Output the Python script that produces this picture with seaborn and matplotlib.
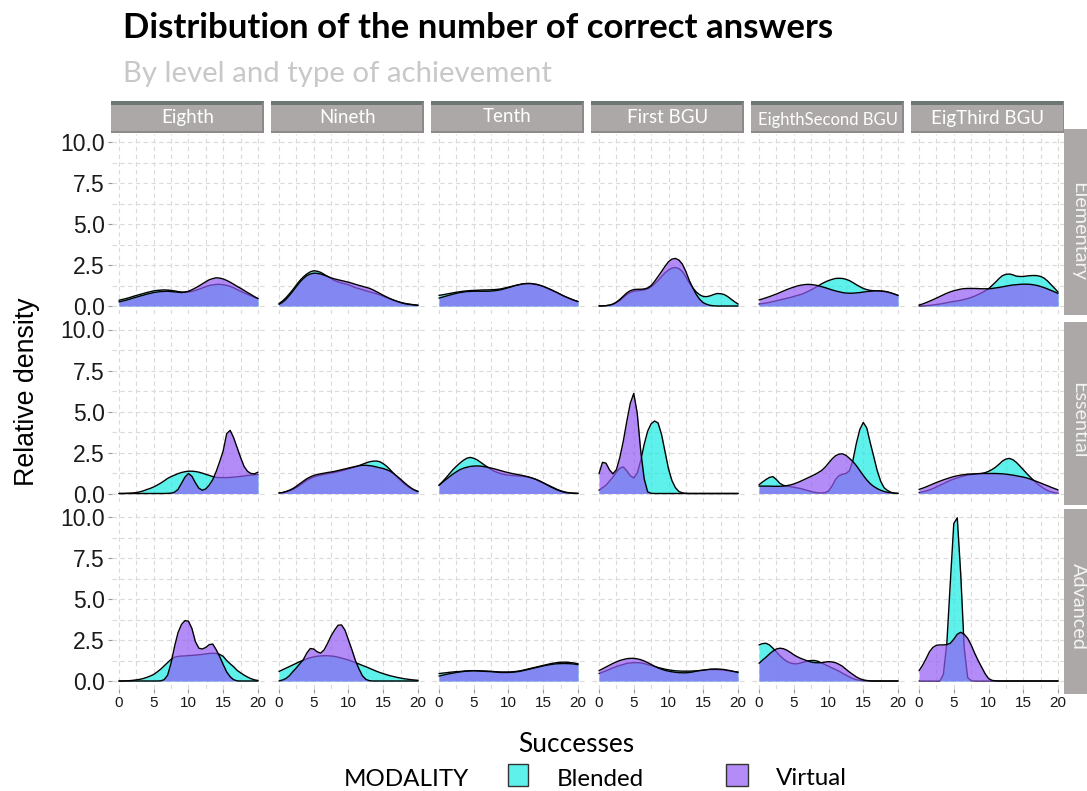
import numpy as np
import pandas as pd
import matplotlib
matplotlib.use("Agg")
import matplotlib.pyplot as plt
import seaborn as sns
from matplotlib.patches import Rectangle
from matplotlib.ticker import MultipleLocator

# ---------------- data ----------------
GRADES = ["Eighth", "Nineth", "Tenth", "First BGU", "EighthSecond BGU", "EigThird BGU"]
LEVELS = ["Elementary", "Essential", "Advanced"]
MODALITIES = ["Blended", "Virtual"]
X_TICKS = [0, 5, 10, 15, 20]
X_LABELS = ["0", "5", "10", "15", "20"]
Y_TICKS = [0, 2.5, 5, 7.5, 10]
Y_LABELS = ["0.0", "2.5", "5.0", "7.5", "10.0"]

SUCCESSES = [0, 0.5, 1, 1.5, 2, 2.5, 3, 3.5, 4, 4.5, 5, 5.5, 6, 6.5, 7, 7.5, 8, 8.5, 9, 9.5, 10,
             10.5, 11, 11.5, 12, 12.5, 13, 13.5, 14, 14.5, 15, 15.5, 16, 16.5, 17, 17.5, 18, 18.5, 19, 19.5, 20]

ELEMENTARY_BLENDED = [
    [0.35, 0.40, 0.45, 0.51, 0.58, 0.64, 0.70, 0.76, 0.82, 0.87, 0.92, 0.95, 0.97, 0.98, 0.97, 0.95, 0.92, 0.88, 0.85, 0.84,
     0.85, 0.89, 0.95, 1.02, 1.10, 1.18, 1.25, 1.29, 1.32, 1.32, 1.30, 1.26, 1.20, 1.11, 1.00, 0.90, 0.80, 0.71, 0.62, 0.53, 0.45],
    [0.15, 0.30, 0.50, 0.74, 1.00, 1.28, 1.55, 1.77, 1.95, 2.08, 2.15, 2.12, 2.05, 1.93, 1.80, 1.67, 1.55, 1.47, 1.40, 1.35,
     1.30, 1.21, 1.12, 1.06, 1.00, 0.93, 0.87, 0.81, 0.75, 0.68, 0.60, 0.51, 0.42, 0.35, 0.28, 0.22, 0.17, 0.13, 0.10, 0.07, 0.05],
    [0.65, 0.68, 0.72, 0.76, 0.80, 0.84, 0.87, 0.90, 0.92, 0.94, 0.95, 0.96, 0.97, 0.98, 0.98, 0.99, 1.00, 1.02, 1.05, 1.10,
     1.15, 1.20, 1.25, 1.29, 1.33, 1.35, 1.35, 1.33, 1.30, 1.25, 1.18, 1.10, 1.00, 0.90, 0.80, 0.70, 0.60, 0.51, 0.42, 0.34, 0.27],
    [0.00, 0.01, 0.02, 0.05, 0.10, 0.20, 0.35, 0.52, 0.70, 0.82, 0.90, 0.93, 0.95, 0.98, 1.05, 1.17, 1.35, 1.56, 1.80, 2.02,
     2.20, 2.31, 2.35, 2.28, 2.10, 1.78, 1.40, 1.10, 0.85, 0.68, 0.58, 0.57, 0.62, 0.70, 0.76, 0.75, 0.70, 0.58, 0.42, 0.26, 0.12],
    [0.12, 0.15, 0.18, 0.22, 0.27, 0.32, 0.37, 0.42, 0.47, 0.52, 0.58, 0.64, 0.70, 0.78, 0.88, 0.98, 1.10, 1.22, 1.35, 1.46,
     1.55, 1.62, 1.68, 1.69, 1.68, 1.63, 1.55, 1.43, 1.30, 1.18, 1.07, 1.00, 0.95, 0.93, 0.92, 0.90, 0.88, 0.84, 0.78, 0.71, 0.63],
    [0.00, 0.01, 0.02, 0.04, 0.06, 0.09, 0.12, 0.16, 0.20, 0.24, 0.28, 0.31, 0.35, 0.40, 0.45, 0.52, 0.60, 0.70, 0.80, 0.92,
     1.05, 1.25, 1.45, 1.67, 1.85, 1.93, 1.95, 1.90, 1.82, 1.80, 1.80, 1.83, 1.85, 1.86, 1.85, 1.80, 1.70, 1.52, 1.30, 1.08, 0.85],
]
ELEMENTARY_VIRTUAL = [
    [0.25, 0.30, 0.35, 0.41, 0.48, 0.54, 0.60, 0.66, 0.72, 0.77, 0.82, 0.85, 0.88, 0.89, 0.90, 0.88, 0.86, 0.84, 0.82, 0.85,
     0.90, 0.99, 1.10, 1.22, 1.35, 1.48, 1.60, 1.67, 1.72, 1.70, 1.65, 1.56, 1.45, 1.33, 1.20, 1.08, 0.95, 0.82, 0.70, 0.57, 0.45],
    [0.10, 0.22, 0.40, 0.64, 0.90, 1.18, 1.45, 1.67, 1.85, 1.95, 2.00, 1.99, 1.95, 1.88, 1.80, 1.72, 1.65, 1.60, 1.55, 1.50,
     1.45, 1.39, 1.32, 1.26, 1.20, 1.14, 1.08, 0.99, 0.88, 0.77, 0.65, 0.55, 0.45, 0.36, 0.28, 0.21, 0.15, 0.11, 0.08, 0.06, 0.04],
    [0.48, 0.54, 0.60, 0.66, 0.72, 0.77, 0.82, 0.85, 0.88, 0.89, 0.90, 0.90, 0.90, 0.90, 0.90, 0.91, 0.93, 0.96, 1.00, 1.06,
     1.12, 1.18, 1.25, 1.30, 1.35, 1.37, 1.38, 1.36, 1.33, 1.27, 1.20, 1.11, 1.02, 0.92, 0.82, 0.71, 0.60, 0.51, 0.42, 0.34, 0.27],
    [0.00, 0.01, 0.02, 0.05, 0.12, 0.24, 0.40, 0.60, 0.80, 0.93, 1.00, 1.02, 1.02, 1.04, 1.10, 1.25, 1.50, 1.80, 2.10, 2.42,
     2.70, 2.86, 2.90, 2.80, 2.55, 2.10, 1.55, 1.10, 0.70, 0.40, 0.20, 0.10, 0.04, 0.01, 0.00, 0.00, 0.00, 0.00, 0.00, 0.00, 0.00],
    [0.37, 0.43, 0.50, 0.57, 0.65, 0.73, 0.82, 0.91, 1.00, 1.08, 1.15, 1.22, 1.27, 1.30, 1.32, 1.31, 1.28, 1.24, 1.18, 1.12,
     1.05, 0.98, 0.92, 0.87, 0.82, 0.79, 0.78, 0.78, 0.80, 0.82, 0.85, 0.88, 0.90, 0.92, 0.93, 0.92, 0.90, 0.86, 0.80, 0.73, 0.65],
    [0.06, 0.12, 0.20, 0.29, 0.38, 0.48, 0.58, 0.68, 0.78, 0.86, 0.93, 0.98, 1.03, 1.06, 1.07, 1.07, 1.07, 1.06, 1.05, 1.05,
     1.05, 1.07, 1.10, 1.13, 1.17, 1.21, 1.25, 1.28, 1.30, 1.32, 1.33, 1.33, 1.32, 1.29, 1.25, 1.19, 1.12, 1.04, 0.95, 0.86, 0.77],
]
ESSENTIAL_BLENDED = [
    [0.00, 0.00, 0.01, 0.02, 0.03, 0.06, 0.10, 0.16, 0.24, 0.31, 0.40, 0.51, 0.63, 0.77, 0.92, 1.03, 1.12, 1.21, 1.28, 1.33,
     1.36, 1.36, 1.34, 1.30, 1.24, 1.17, 1.10, 1.03, 0.98, 0.97, 0.97, 0.97, 0.98, 1.00, 1.02, 1.04, 1.07, 1.10, 1.12, 1.14, 1.16],
    [0.03, 0.05, 0.10, 0.16, 0.25, 0.36, 0.50, 0.65, 0.80, 0.91, 1.00, 1.07, 1.12, 1.16, 1.20, 1.24, 1.28, 1.33, 1.38, 1.44,
     1.50, 1.56, 1.62, 1.70, 1.78, 1.86, 1.93, 1.97, 1.98, 1.94, 1.82, 1.66, 1.45, 1.22, 1.00, 0.80, 0.60, 0.44, 0.30, 0.20, 0.13],
    [0.50, 0.72, 0.95, 1.20, 1.45, 1.66, 1.85, 2.02, 2.15, 2.20, 2.15, 2.05, 1.90, 1.75, 1.60, 1.47, 1.35, 1.27, 1.20, 1.15,
     1.12, 1.10, 1.08, 1.06, 1.05, 1.02, 0.98, 0.92, 0.85, 0.76, 0.65, 0.55, 0.45, 0.35, 0.25, 0.17, 0.10, 0.06, 0.03, 0.02, 0.01],
    [0.20, 0.35, 0.50, 0.75, 1.00, 1.30, 1.55, 1.62, 1.38, 1.08, 0.95, 1.25, 2.00, 3.00, 3.80, 4.25, 4.42, 4.30, 3.60, 2.55,
     1.50, 0.78, 0.35, 0.12, 0.04, 0.01, 0, 0, 0, 0, 0, 0, 0, 0, 0, 0, 0, 0, 0, 0, 0],
    [0.53, 0.70, 0.85, 0.98, 1.03, 0.85, 0.62, 0.50, 0.45, 0.42, 0.38, 0.34, 0.30, 0.24, 0.18, 0.12, 0.07, 0.04, 0.03, 0.05,
     0.15, 0.45, 0.85, 1.08, 1.17, 1.22, 1.38, 2.00, 3.05, 3.90, 4.33, 4.00, 3.10, 2.26, 1.40, 0.75, 0.35, 0.18, 0.07, 0.02, 0.00],
    [0.05, 0.10, 0.15, 0.22, 0.30, 0.40, 0.50, 0.60, 0.70, 0.80, 0.88, 0.95, 1.02, 1.07, 1.12, 1.15, 1.18, 1.20, 1.22, 1.27,
     1.35, 1.46, 1.60, 1.78, 1.98, 2.10, 2.14, 2.06, 1.90, 1.68, 1.45, 1.22, 1.00, 0.80, 0.60, 0.44, 0.30, 0.18, 0.10, 0.05, 0.02],
]
ESSENTIAL_VIRTUAL = [
    [0, 0, 0, 0, 0, 0, 0, 0, 0, 0, 0, 0, 0, 0, 0.01, 0.02, 0.08, 0.25, 0.62, 1.00,
     1.22, 1.05, 0.65, 0.32, 0.20, 0.28, 0.52, 0.85, 1.35, 1.95, 2.60, 3.65, 3.85, 3.40, 2.80, 2.20, 1.65, 1.35, 1.22, 1.20, 1.30],
    [0.03, 0.06, 0.12, 0.20, 0.30, 0.44, 0.60, 0.75, 0.90, 1.01, 1.10, 1.16, 1.20, 1.24, 1.28, 1.31, 1.35, 1.40, 1.45, 1.50,
     1.55, 1.60, 1.65, 1.69, 1.72, 1.72, 1.70, 1.67, 1.62, 1.57, 1.52, 1.45, 1.36, 1.22, 1.05, 0.87, 0.68, 0.50, 0.34, 0.21, 0.12],
    [0.50, 0.68, 0.85, 1.02, 1.18, 1.32, 1.45, 1.54, 1.60, 1.65, 1.67, 1.68, 1.67, 1.64, 1.60, 1.55, 1.50, 1.44, 1.38, 1.32,
     1.27, 1.22, 1.18, 1.14, 1.10, 1.05, 1.00, 0.93, 0.85, 0.75, 0.65, 0.54, 0.42, 0.32, 0.22, 0.14, 0.08, 0.04, 0.02, 0.01, 0.00],
    [1.20, 1.90, 1.85, 1.45, 1.20, 1.45, 2.20, 3.20, 4.40, 5.50, 6.10, 4.90, 2.60, 0.90, 0.10, 0.01, 0, 0, 0, 0,
     0, 0, 0, 0, 0, 0, 0, 0, 0, 0, 0, 0, 0, 0, 0, 0, 0, 0, 0, 0, 0],
    [0.45, 0.45, 0.45, 0.45, 0.44, 0.44, 0.44, 0.45, 0.48, 0.52, 0.58, 0.66, 0.75, 0.85, 0.95, 1.05, 1.15, 1.27, 1.40, 1.60,
     1.85, 2.10, 2.30, 2.40, 2.42, 2.33, 2.15, 1.95, 1.70, 1.40, 1.10, 0.83, 0.60, 0.43, 0.30, 0.20, 0.12, 0.07, 0.04, 0.02, 0.01],
    [0.25, 0.32, 0.40, 0.49, 0.58, 0.67, 0.75, 0.83, 0.90, 0.97, 1.03, 1.08, 1.12, 1.15, 1.18, 1.19, 1.20, 1.21, 1.22, 1.22,
     1.22, 1.22, 1.22, 1.21, 1.20, 1.18, 1.15, 1.12, 1.08, 1.04, 1.00, 0.95, 0.88, 0.80, 0.72, 0.64, 0.55, 0.47, 0.38, 0.30, 0.22],
]
ADVANCED_BLENDED = [
    [0.00, 0.00, 0.01, 0.02, 0.04, 0.07, 0.10, 0.15, 0.22, 0.30, 0.40, 0.55, 0.72, 0.92, 1.12, 1.32, 1.45, 1.50, 1.52, 1.53,
     1.55, 1.56, 1.58, 1.60, 1.62, 1.65, 1.68, 1.69, 1.68, 1.62, 1.50, 1.25, 1.05, 0.87, 0.65, 0.50, 0.36, 0.24, 0.14, 0.07, 0.03],
    [0.58, 0.68, 0.78, 0.88, 0.98, 1.08, 1.18, 1.27, 1.35, 1.42, 1.47, 1.51, 1.53, 1.54, 1.54, 1.52, 1.50, 1.45, 1.40, 1.34,
     1.28, 1.20, 1.12, 1.04, 0.95, 0.87, 0.78, 0.69, 0.60, 0.52, 0.45, 0.38, 0.32, 0.27, 0.22, 0.18, 0.14, 0.11, 0.08, 0.06, 0.04],
    [0.45, 0.48, 0.50, 0.53, 0.55, 0.57, 0.58, 0.60, 0.62, 0.63, 0.63, 0.63, 0.62, 0.61, 0.60, 0.59, 0.57, 0.56, 0.55, 0.55,
     0.55, 0.56, 0.58, 0.61, 0.65, 0.70, 0.75, 0.80, 0.85, 0.90, 0.95, 1.00, 1.05, 1.09, 1.12, 1.14, 1.15, 1.14, 1.12, 1.09, 1.05],
    [0.45, 0.54, 0.62, 0.71, 0.80, 0.88, 0.95, 1.01, 1.07, 1.10, 1.12, 1.12, 1.10, 1.06, 1.00, 0.94, 0.88, 0.82, 0.77, 0.72,
     0.68, 0.65, 0.62, 0.61, 0.60, 0.60, 0.60, 0.61, 0.62, 0.64, 0.66, 0.68, 0.70, 0.70, 0.70, 0.68, 0.66, 0.63, 0.60, 0.57, 0.55],
    [2.20, 2.28, 2.30, 2.20, 2.00, 1.78, 1.55, 1.35, 1.20, 1.10, 1.05, 1.05, 1.10, 1.16, 1.22, 1.25, 1.25, 1.20, 1.10, 1.00,
     0.90, 0.80, 0.70, 0.60, 0.48, 0.36, 0.25, 0.15, 0.08, 0.04, 0.02, 0.01, 0, 0, 0, 0, 0, 0, 0, 0, 0],
    [0, 0, 0, 0, 0, 0, 0, 0.40, 2.30, 6.00, 9.60, 9.95, 6.50, 2.00, 0.20, 0.02, 0, 0, 0, 0,
     0, 0, 0, 0, 0, 0, 0, 0, 0, 0, 0, 0, 0, 0, 0, 0, 0, 0, 0, 0, 0],
]
ADVANCED_VIRTUAL = [
    [0, 0, 0, 0, 0, 0, 0, 0, 0, 0, 0, 0, 0.01, 0.08, 0.35, 1.10, 2.10, 2.95, 3.45, 3.68,
     3.65, 3.20, 2.40, 2.00, 1.95, 2.05, 2.22, 2.25, 1.90, 1.48, 1.00, 0.55, 0.26, 0.08, 0.01, 0, 0, 0, 0, 0, 0],
    [0.00, 0.06, 0.15, 0.32, 0.57, 0.80, 1.05, 1.30, 1.70, 1.98, 1.95, 1.78, 1.70, 1.90, 2.30, 2.75, 3.10, 3.40, 3.42, 3.10,
     2.50, 1.90, 1.25, 0.75, 0.32, 0.10, 0.02, 0, 0, 0, 0, 0, 0, 0, 0, 0, 0, 0, 0, 0, 0],
    [0.30, 0.35, 0.40, 0.44, 0.48, 0.52, 0.55, 0.58, 0.60, 0.61, 0.62, 0.61, 0.60, 0.59, 0.58, 0.57, 0.55, 0.53, 0.52, 0.52,
     0.52, 0.53, 0.55, 0.58, 0.62, 0.67, 0.72, 0.77, 0.82, 0.87, 0.92, 0.96, 1.00, 1.03, 1.05, 1.06, 1.07, 1.06, 1.05, 1.03, 1.00],
    [0.63, 0.74, 0.85, 0.96, 1.07, 1.17, 1.25, 1.31, 1.36, 1.38, 1.38, 1.35, 1.30, 1.22, 1.12, 1.01, 0.90, 0.80, 0.72, 0.65,
     0.60, 0.56, 0.53, 0.51, 0.50, 0.50, 0.52, 0.55, 0.60, 0.63, 0.66, 0.69, 0.72, 0.73, 0.73, 0.72, 0.70, 0.66, 0.62, 0.57, 0.52],
    [1.08, 1.27, 1.45, 1.65, 1.82, 1.95, 2.00, 1.97, 1.88, 1.75, 1.60, 1.48, 1.38, 1.30, 1.22, 1.16, 1.12, 1.11, 1.12, 1.15,
     1.18, 1.16, 1.12, 1.02, 0.90, 0.72, 0.55, 0.40, 0.25, 0.14, 0.07, 0.03, 0.01, 0, 0, 0, 0, 0, 0, 0, 0],
    [0.63, 0.95, 1.35, 1.78, 2.05, 2.18, 2.20, 2.20, 2.22, 2.30, 2.55, 2.85, 2.97, 2.85, 2.60, 2.20, 1.70, 1.25, 0.85, 0.45,
     0.15, 0.04, 0.01, 0, 0, 0, 0, 0, 0, 0, 0, 0, 0, 0, 0, 0, 0, 0, 0, 0, 0],
]

# ---------------- style ----------------
sns.set_style("white")
plt.rcParams["font.family"] = ["Liberation Sans", "DejaVu Sans"]
LABEL_FONT = ["Lato", "DejaVu Sans"]

W, H, DPI = 1087, 791, 100
FILL_ALPHA = 0.7
PALETTE = {"Blended": "#1AEAE2", "Virtual": "#945BF5"}
STRIP_FILL = "#ACA8A7"
STRIP_TOP = "#6E7675"
GRID_COLOR = "#dadada"

# ---------------- long table ----------------
records = []
for level, bl, vi in zip(LEVELS,
                         [ELEMENTARY_BLENDED, ESSENTIAL_BLENDED, ADVANCED_BLENDED],
                         [ELEMENTARY_VIRTUAL, ESSENTIAL_VIRTUAL, ADVANCED_VIRTUAL]):
    for gi, grade in enumerate(GRADES):
        for mod, series in (("Blended", bl[gi]), ("Virtual", vi[gi])):
            assert len(series) == len(SUCCESSES), (level, grade, mod, len(series))
            for x, y in zip(SUCCESSES, series):
                records.append({"level": level, "grade": grade, "modality": mod,
                                "successes": x, "density": y})
df = pd.DataFrame(records)

g = sns.FacetGrid(df, row="level", col="grade", hue="modality",
                  row_order=LEVELS, col_order=GRADES, hue_order=MODALITIES,
                  palette=PALETTE, sharex=True, sharey=True,
                  height=2.5, aspect=1.0, despine=False)


def draw_density(data, color, label=None, **kws):
    ax = plt.gca()
    ax.fill_between(data["successes"], data["density"], 0, color=color,
                    alpha=FILL_ALPHA, linewidth=0, zorder=2)
    ax.plot(data["successes"], data["density"], color="black", linewidth=1.0, zorder=2)


g.map_dataframe(draw_density)
g.set_titles("")
g.set_axis_labels("", "")

fig = g.figure
fig.set_size_inches(W / DPI, H / DPI)
fig.set_dpi(DPI)
fig.subplots_adjust(left=112 / W, right=1065 / W, top=1 - 133.8 / H, bottom=1 - 689.2 / H,
                    wspace=7.1 / 152.9, hspace=7.1 / 180.4)

nrows, ncols = g.axes.shape
for ri in range(nrows):
    for ci in range(ncols):
        ax = g.axes[ri, ci]
        ax.set_xlim(-1, 21)
        ax.set_ylim(-0.5, 10.5)
        ax.set_xticks(X_TICKS)
        ax.set_yticks(Y_TICKS)
        ax.xaxis.set_minor_locator(MultipleLocator(2.5))
        ax.yaxis.set_minor_locator(MultipleLocator(1.25))
        ax.grid(True, which="both", color=GRID_COLOR, linewidth=0.8, linestyle=(0, (4, 3)))
        ax.set_axisbelow(True)
        ax.set_facecolor("white")
        for s in ax.spines.values():
            s.set_visible(False)
        ax.tick_params(which="minor", length=0)
        ax.tick_params(which="major", left=(ci == 0), bottom=(ri == nrows - 1),
                       length=3, width=0.8, color="#9a9a9a")
        if ci == 0:
            ax.set_yticklabels(Y_LABELS)
            ax.tick_params(axis="y", labelleft=True, labelsize=16.5, pad=2, labelcolor="#1a1a1a")
        else:
            ax.tick_params(axis="y", labelleft=False)
        if ri == nrows - 1:
            ax.set_xticklabels(X_LABELS)
            ax.tick_params(axis="x", labelbottom=True, labelsize=11, pad=2, labelcolor="#1a1a1a")
        else:
            ax.tick_params(axis="x", labelbottom=False)

renderer = fig.canvas.get_renderer()


def rect_px(x0, y0, x1, y1, **kw):
    fig.add_artist(Rectangle((x0 / W, 1 - y1 / H), (x1 - x0) / W, (y1 - y0) / H,
                             transform=fig.transFigure, **kw))


def text_px(x, y, s, **kw):
    return fig.text(x / W, 1 - y / H, s, **kw)


def fit(t, target, vertical=False):
    for _ in range(3):
        bb = t.get_window_extent(renderer)
        cur = bb.height if vertical else bb.width
        t.set_fontsize(t.get_fontsize() * target / cur)
    return t.get_fontsize()


# ---------------- top strips ----------------
probe = text_px(0, -100, "First BGU", family=LABEL_FONT, fontsize=12)
strip_fs = fit(probe, 81)
probe.remove()
STRIP_BASE = [123, 123, 122, 123, 125, 124]
for ci, grade in enumerate(GRADES):
    pos = g.axes[0, ci].get_position()
    x0, x1 = pos.x0 * W - 1, pos.x1 * W - 1
    rect_px(x0, 102.5, x1, 132.5, facecolor=STRIP_FILL, edgecolor="none")
    rect_px(x0, 101.5, x1, 104.5, facecolor=STRIP_TOP, edgecolor="none")
    rect_px(x0, 131, x1, 133, facecolor="#8d8a89", edgecolor="none")
    rect_px(x1 - 1.5, 102.5, x1, 133, facecolor="#8d8a89", edgecolor="none")
    t = text_px((x0 + x1) / 2, STRIP_BASE[ci], grade, family=LABEL_FONT, fontsize=strip_fs,
                color="white", ha="center", va="baseline")
    if grade == "EighthSecond BGU":
        fit(t, 140)

# ---------------- right strips ----------------
RIGHT_STRIPS = [(129, 315), (322, 505), (509, 694)]
RIGHT_TEXT_Y = [232, 420, 606]
probe = text_px(0, -100, "Elementary", family=LABEL_FONT, fontsize=12)
rfs = fit(probe, 99)
probe.remove()
for ri, level in enumerate(LEVELS):
    y0, y1 = RIGHT_STRIPS[ri]
    rect_px(1064, y0, 1100, y1, facecolor=STRIP_FILL, edgecolor="none")
    text_px(1073, RIGHT_TEXT_Y[ri], level, family=LABEL_FONT, fontsize=rfs, color="#f4f4f4",
            rotation=-90, rotation_mode="anchor", ha="center", va="baseline")

# ---------------- titles and axis labels ----------------
t = text_px(123, 38, "Distribution of the number of correct answers", family=LABEL_FONT,
            fontweight="bold", fontsize=22, color="black", ha="left", va="baseline")
fit(t, 710)
t = text_px(123, 82, "By level and type of achievement", family=LABEL_FONT,
            fontsize=20, color="#c8c8c8", ha="left", va="baseline")
fit(t, 428)
t = text_px(576, 752, "Successes", family=LABEL_FONT, fontsize=18, color="black",
            ha="center", va="baseline")
fit(t, 116)
t = text_px(27, 392, "Relative density", fontsize=17, color="black",
            rotation=90, ha="center", va="center")
fit(t, 189, vertical=True)

# ---------------- legend ----------------
t = text_px(344, 786, "MODALITY", family=LABEL_FONT, fontsize=20, color="black",
            ha="left", va="baseline")
fit(t, 125)
LEGEND_BOXES = {"Blended": (508, 528), "Virtual": (726, 748)}
LEGEND_TEXT = {"Blended": (557, 786, 87), "Virtual": (776, 785, 71)}
for mod in MODALITIES:
    bx0, bx1 = LEGEND_BOXES[mod]
    rect_px(bx0, 764, bx1, 786, facecolor=PALETTE[mod], alpha=FILL_ALPHA, edgecolor="none")
    rect_px(bx0, 764, bx1, 786, facecolor="none", edgecolor="#333333", linewidth=1.0)
    tx, ty, tw = LEGEND_TEXT[mod]
    t = text_px(tx, ty, mod, family=LABEL_FONT, fontsize=20, color="black",
                ha="left", va="baseline")
    fit(t, tw)

fig.savefig("out.png", dpi=DPI, facecolor="white")
